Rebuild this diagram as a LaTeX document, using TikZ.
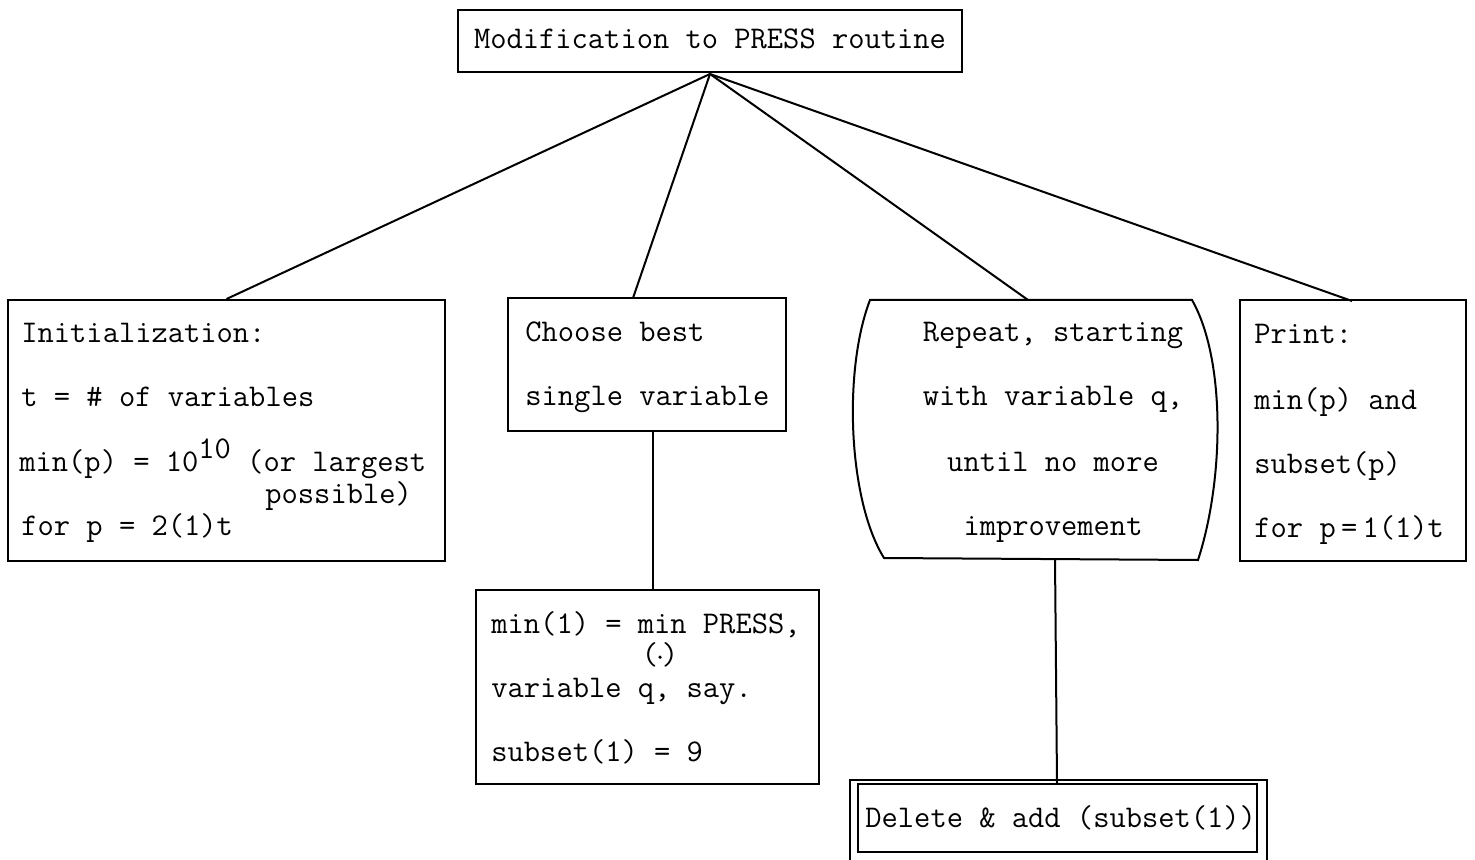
\documentclass[tikz,border=0pt]{standalone}
\usepackage{fontspec}
\usetikzlibrary{fit}
\begin{document}
\begin{tikzpicture}[x=0.5pt,y=-0.5pt,
  box/.style={draw, line width=1pt, inner sep=0pt},
  tw/.style={inner sep=0pt, font=\ttfamily\fontsize{15.8}{18}\selectfont},
  txt/.style={tw, anchor=base west},
  ctxt/.style={tw, anchor=base},
  link/.style={line width=1pt}]
\useasboundingbox (0,0) rectangle (1475,860);
% boxes
\node[box, fit={(458,10)(962,72)}] (top) {};
\node[box, fit={(8,300)(445,561)}] (init) {};
\node[box, fit={(508,298)(786,431)}] (choose) {};
\node[box, fit={(1240,300)(1466,561)}] (print) {};
\node[box, fit={(476,590)(819,784)}] (minone) {};
\node[box, fit={(850,780)(1267,875)}] (delete) {};
\node[box, fit={(858,784)(1257,852)}] (deletein) {};
% repeat shape
\draw[line width=1pt] (870,300) -- (1192,300)
  .. controls (1226,360) and (1224,480) .. (1198,560) -- (884,558)
  .. controls (848,500) and (843,370) .. cycle;
\coordinate (reptop) at (1028,300);
\coordinate (repbot) at (1055,559);
% text
\node[ctxt] (ttop) at (710,49) {Modification to PRESS routine};
\node[txt] (i1) at (21,343) {Initialization:};
\node[txt] (i2) at (21,407) {t = \# of variables};
\node[txt] (i3) at (19,471) {min(p) = 10\raisebox{6pt}{10} (or largest};
\node[txt] (i4) at (265,503) {possible)};
\node[txt] (i5) at (21,535) {for p = 2(1)t};
\node[txt] (c1) at (525,342) {Choose best};
\node[txt] (c2) at (525,406) {single variable};
\node[ctxt] (r1) at (1053,342) {Repeat, starting};
\node[ctxt] (r2) at (1053,406) {with variable q,};
\node[ctxt] (r3) at (1053,471) {until no more};
\node[ctxt] (r4) at (1053,535) {improvement};
\node[txt] (p1) at (1254,344) {Print:};
\node[txt] (p2) at (1254,409) {min(p) and};
\node[txt] (p3) at (1254,473) {subset(p)};
\node[txt] (p4) at (1254,537) {for p\,=\,1(1)t};
\node[txt] (m1) at (491,633) {min(1) = min PRESS,};
\node[ctxt] (m2) at (660,664) {(\raisebox{2.5pt}{\tikz\fill (0,0) circle (0.9pt);})};
\node[txt] (m3) at (491,697) {variable q, say.};
\node[txt] (m4) at (491,761) {subset(1) = 9};
\node[txt] (d1) at (865,827) {Delete \& add (subset(1))};
% connectors
\coordinate (apex) at (710,74);
\coordinate (chtop) at (633,298);
\coordinate (prtop) at (1352,301);
\coordinate (chbot) at (653,431);
\coordinate (mntop) at (653,590);
\coordinate (dltop) at (1057,784);
\draw[link] (apex) -- (init.north);
\draw[link] (apex) -- (chtop);
\draw[link] (apex) -- (reptop);
\draw[link] (apex) -- (prtop);
\draw[link] (chbot) -- (mntop);
\draw[link] (repbot) -- (dltop);
\end{tikzpicture}
\end{document}
